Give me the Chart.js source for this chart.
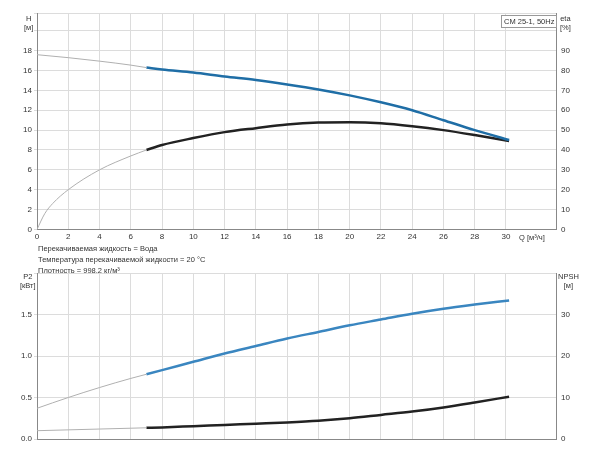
<!DOCTYPE html><html><head><meta charset="utf-8">
<script src="https://cdn.jsdelivr.net/npm/chart.js@4"></script>
<style>
body{margin:0;background:#fff;font-family:"Liberation Sans",Arial,sans-serif;}
#w{position:relative;width:600px;height:450px;}
canvas{position:absolute;left:0;}
.t{position:absolute;font-size:7.5px;color:#333;line-height:9px;}
</style></head><body><div id="w">
<canvas id="c1" style="top:0" width="600" height="245"></canvas>
<canvas id="c2" style="top:260px" width="600" height="190"></canvas>
<div class="t" style="left:24px;top:14px;text-align:center">H<br>[м]</div>
<div class="t" style="left:560px;top:14px;text-align:center">eta<br>[%]</div>
<div class="t" style="left:501px;top:15px;border:1px solid #999;padding:1px 2px;background:#fff">CM 25-1, 50Hz</div>
<div class="t" style="left:519px;top:233px">Q [м³/ч]</div>
<div class="t" style="left:38px;top:243px;line-height:11px">Перекачиваемая жидкость = Вода<br>Температура перекачиваемой жидкости = 20 °C<br>Плотность = 998.2 кг/м³</div>
<div class="t" style="left:20px;top:272px;text-align:center">P2<br>[кВт]</div>
<div class="t" style="left:558px;top:272px;text-align:center">NPSH<br>[м]</div>
</div>
<script>
const Q=[0,2,4,6,7,8,10,12,14,16,18,20,22,24,26,28,30.2];
const H=[17.6,17.3,16.95,16.55,16.3,16.1,15.8,15.4,15.05,14.6,14.1,13.5,12.8,12.0,11.0,10.0,9.0];
const Qe=[0,0.5,1,2,4,6,7,8,10,12,14,16,18,20,22,24,26,28,30.2];
const ETA=[0,8,13,20,30,37,40,42.5,46,49,51,52.8,53.8,54,53.5,52,50,47.5,44.5];
const P2=[0.37,0.5,0.62,0.73,0.78,0.83,0.93,1.03,1.12,1.21,1.29,1.37,1.44,1.51,1.57,1.62,1.67];
const NPSH=[2.0,2.2,2.4,2.6,2.7,2.8,3.1,3.4,3.7,4.0,4.4,5.0,5.8,6.6,7.6,8.8,10.2];
function pts(xs,ys,from,to){const r=[];xs.forEach((x,i)=>{if(x>=from&&x<=to)r.push({x,y:ys[i]});});return r;}
const grey='#b0b0b0',blue='#1f6ea6',blk='#222';
function ds(xs,ys,col,axis){return [
 {data:pts(xs,ys,0,7),borderColor:grey,borderWidth:1,yAxisID:axis},
 {data:pts(xs,ys,7,31),borderColor:col,borderWidth:2.5,yAxisID:axis}];}
const f={family:'"Liberation Sans",Arial',size:8};
const gridC='#dcdcdc';
function xScale(show){return {type:'linear',min:0,max:33.2,
 grid:{color:gridC,drawTicks:false},border:{color:'#888'},
 ticks:{display:show,stepSize:2,color:'#333',font:f,padding:3,autoSkip:false,callback:v=>v<=30?v:''}};}
function yScale(pos,max,step,lim,w){return {type:'linear',position:pos,min:0,max:max,
 grid:{color:pos==='left'?gridC:'transparent',drawTicks:true,tickLength:3},border:{color:'#888'},
 ticks:{stepSize:step,color:'#333',font:f,padding:2,autoSkip:false,callback:v=>v<=lim+1e-9?v:''},
 afterFit:s=>{s.width=w;}};}
const common={responsive:false,animation:false,plugins:{legend:{display:false},tooltip:{enabled:false}},
 elements:{point:{radius:0},line:{tension:0.4,cubicInterpolationMode:'monotone'}}};
new Chart(document.getElementById('c1'),{type:'line',data:{datasets:[...ds(Q,H,blue,'y'),...ds(Qe,ETA,blk,'y1')]},
 options:{...common,layout:{padding:{top:13,left:0,right:0,bottom:0}},
 scales:{x:xScale(true),y:yScale('left',21.8,2,18,37),y1:yScale('right',109,10,90,44)}}});
const y2=yScale('left',2.0,0.5,1.5,37);y2.ticks.callback=v=>v<=1.5?v.toFixed(1):'';
new Chart(document.getElementById('c2'),{type:'line',data:{datasets:[...ds(Q,P2,'#3a86c0','y'),...ds(Q,NPSH,blk,'y1')]},
 options:{...common,layout:{padding:{top:13,bottom:11}},
 scales:{x:xScale(false),y:y2,y1:yScale('right',40,10,30,44)}}});
</script></body></html>
